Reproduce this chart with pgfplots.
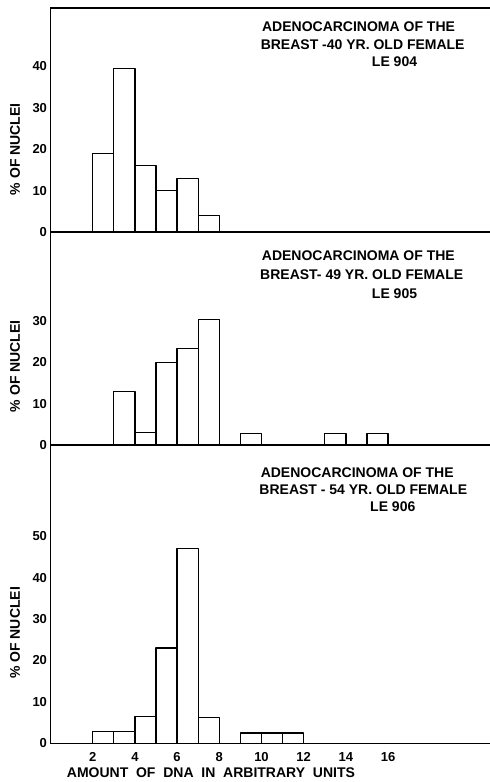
\documentclass[border=0pt]{standalone}
\usepackage{fontspec}
\setmainfont{Liberation Sans}
\usepackage{pgfplots}
\pgfplotsset{compat=1.18}

% Histograms: bar centres (interval midpoints) and percentage of nuclei
\pgfplotsset{
  hist/.style={
    scale only axis,
    width=439.5pt,
    xmin=0, xmax=20.83, ymin=0,
    axis x line*=bottom, axis y line*=left,
    axis line style={-, line width=1.5pt},
    major tick length=0pt,
    tick style={draw=none},
    /pgf/number format/assume math mode=true,
    tick label style={font=\fontsize{13}{13}\selectfont\bfseries},
    xticklabel style={yshift=-6pt},
    ylabel={\% OF NUCLEI},
    ylabel style={font=\fontsize{14}{14}\selectfont\bfseries,
      at={(axis description cs:-0.0808,0.37)}, anchor=center},
    ybar, bar width=1, bar shift=0pt,
    clip=false,
  },
  bars/.style={draw=black, fill=white, line width=1.3pt, line join=round},
}
\tikzset{
  ttl/.style={anchor=west, inner sep=0pt,
    font=\fontsize{14}{14}\selectfont\bfseries},
}

\begin{document}
\begin{tikzpicture}
\useasboundingbox (-50.5pt,-38.7pt) rectangle (439.5pt,743.3pt);

% LE 904
\begin{axis}[hist, at={(0pt,511.3pt)}, anchor=south west,
  height=224pt, ymax=54.1, ytick={0,10,20,30,40}, xtick=\empty]
\addplot[bars] coordinates {(2.5,19) (3.5,39.5) (4.5,16) (5.5,10) (6.5,13) (7.5,4)};
\draw[line width=1.3pt] (rel axis cs:0,1) -- (rel axis cs:1,1);
\node[ttl] at (axis description cs:0.481,0.9165) {ADENOCARCINOMA OF THE};
\node[ttl] at (axis description cs:0.478,0.835) {BREAST -40 YR. OLD FEMALE};
\node[ttl] at (axis description cs:0.731,0.760) {LE 904};
\end{axis}

% LE 905
\begin{axis}[hist, at={(0pt,298.3pt)}, anchor=south west,
  height=213pt, ymax=51.45, ytick={0,10,20,30}, xtick=\empty]
\addplot[bars] coordinates {(3.5,13) (4.5,3) (5.5,20) (6.5,23.3) (7.5,30.3)
  (9.5,2.8) (13.5,2.8) (15.5,2.8)};
\node[ttl] at (axis description cs:0.4806,0.887) {ADENOCARCINOMA OF THE};
\node[ttl] at (axis description cs:0.4767,0.798) {BREAST- 49 YR. OLD FEMALE};
\node[ttl] at (axis description cs:0.731,0.712) {LE 905};
\end{axis}

% LE 906
\begin{axis}[hist, at={(0pt,0pt)}, anchor=south west,
  height=298.3pt, ymax=72.05, ytick={0,10,20,30,40,50},
  xtick={2,4,...,16},
  xlabel={AMOUNT\ \ OF\ \ DNA\ \ IN\ \ ARBITRARY\ \ UNITS},
  xlabel style={font=\fontsize{14}{14}\selectfont\bfseries,
    at={(axis description cs:0.365,-0.0986)}, anchor=center}]
\addplot[bars] coordinates {(2.5,2.8) (3.5,2.8) (4.5,6.4) (5.5,23) (6.5,47.1) (7.5,6.2)
  (9.5,2.5) (10.5,2.5) (11.5,2.5)};
\node[ttl] at (axis description cs:0.478,0.907) {ADENOCARCINOMA OF THE};
\node[ttl] at (axis description cs:0.475,0.8515) {BREAST - 54 YR. OLD FEMALE};
\node[ttl] at (axis description cs:0.727,0.793) {LE 906};
\end{axis}
\end{tikzpicture}
\end{document}
